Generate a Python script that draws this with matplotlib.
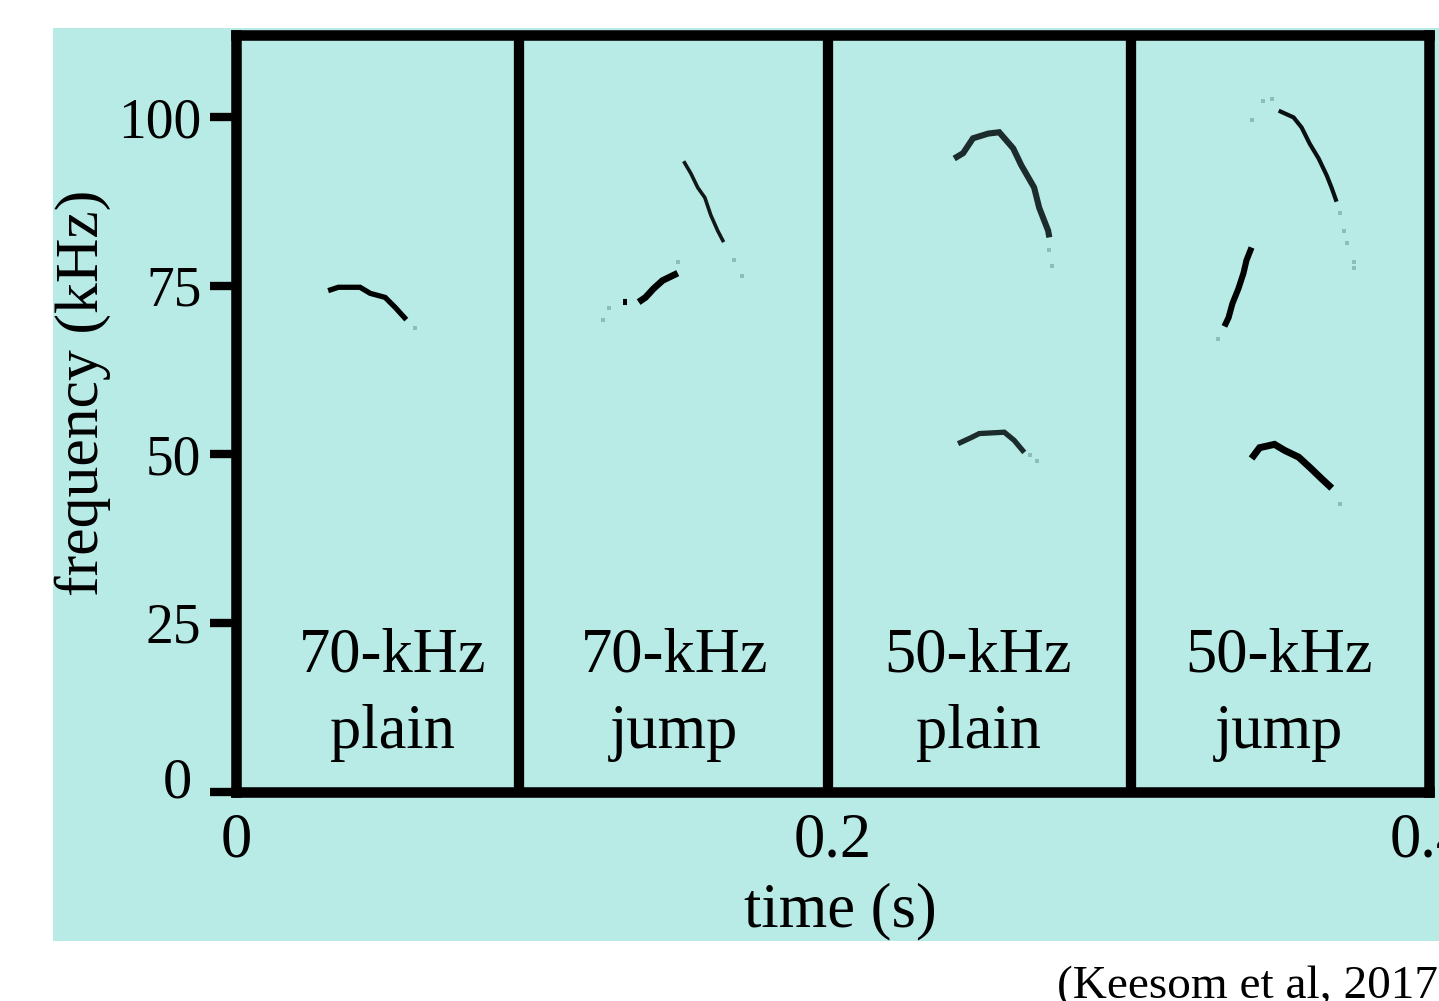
import matplotlib
matplotlib.use("Agg")
import matplotlib.pyplot as plt
from matplotlib.patches import Rectangle

plt.rcParams['font.family'] = ['Liberation Serif', 'DejaVu Serif']

BG = '#b8ebe6'

# call contours: time (s), frequency (kHz)
plain70_t = [0.0309, 0.0343, 0.0416, 0.0450, 0.0500, 0.0534, 0.0571]
plain70_f = [74.3, 74.8, 74.8, 73.9, 73.3, 71.8, 70.0]
plain70_tail_t = [0.0601]
plain70_tail_f = [68.8]

jump70_low_t = [0.1350, 0.1373, 0.1400, 0.1430, 0.1481]
jump70_low_f = [72.6, 73.3, 74.6, 75.8, 76.9]
jump70_dot_t = [0.1296, 0.1310]
jump70_dot_f = [72.6, 72.6]
jump70_low_tail_t = [0.1232, 0.1249, 0.1481]
jump70_low_tail_f = [69.9, 71.7, 78.5]

jump70_high_t = [0.1501, 0.1525, 0.1548, 0.1572, 0.1592, 0.1615, 0.1635]
jump70_high_f = [93.5, 91.7, 89.6, 88.1, 85.5, 83.2, 81.5]
jump70_high_tail_t = [0.1669, 0.1696]
jump70_high_tail_f = [78.8, 76.4]

plain50_top_t = [0.2408, 0.2438, 0.2471, 0.2522, 0.2559, 0.2606, 0.2633, 0.2676, 0.2693, 0.2723, 0.2727]
plain50_top_f = [93.9, 94.7, 96.9, 97.6, 97.8, 95.4, 92.9, 89.6, 86.6, 83.2, 82.2]
plain50_top_tail_t = [0.2727, 0.2737]
plain50_top_tail_f = [80.3, 78.0]

plain50_low_t = [0.2421, 0.2465, 0.2492, 0.2576, 0.2609, 0.2643]
plain50_low_f = [51.6, 52.5, 53.1, 53.3, 52.1, 50.3]
plain50_low_tail_t = [0.2663, 0.2686]
plain50_low_tail_f = [49.9, 49.0]

jump50_top_t = [0.3496, 0.3546, 0.3573, 0.3600, 0.3630, 0.3657, 0.3674, 0.3690]
jump50_top_f = [101.0, 100.0, 98.5, 96.1, 93.9, 91.4, 89.5, 87.5]
jump50_top_tail_t = [0.3405, 0.3445, 0.3472, 0.3700, 0.3714, 0.3724, 0.3748, 0.3748]
jump50_top_tail_f = [99.6, 102.4, 102.8, 85.8, 83.2, 81.3, 78.5, 77.6]

jump50_mid_t = [0.3314, 0.3328, 0.3341, 0.3361, 0.3378, 0.3388, 0.3405]
jump50_mid_f = [69.0, 70.3, 72.4, 74.6, 76.9, 78.8, 80.7]
jump50_mid_tail_t = [0.3294]
jump50_mid_tail_f = [67.2]

jump50_low_t = [0.3405, 0.3432, 0.3482, 0.3516, 0.3563, 0.3600, 0.3640, 0.3674]
jump50_low_f = [49.4, 51.0, 51.5, 50.6, 49.6, 48.1, 46.4, 45.0]
jump50_low_tail_t = [0.3700]
jump50_low_tail_f = [42.7]

panel_edges = [0.095, 0.1985, 0.3002]
panel_centers = [0.0525, 0.147, 0.2488, 0.3498]
panel_top = ['70-kHz', '70-kHz', '50-kHz', '50-kHz']
panel_bottom = ['plain', 'jump', 'plain', 'jump']

x_ticks = [0, 0.2, 0.4]
x_labels = ['0', '0.2', '0.4']
y_ticks = [0, 25, 50, 75, 100]
y_labels = ['', '25', '50', '75', '100']

W, H = 1439, 1001
fig = plt.figure(figsize=(W / 100, H / 100), dpi=100, facecolor='white')
fig.patches.append(Rectangle((53 / W, 1 - 941 / H), (W - 53) / W, 913 / H,
                             transform=fig.transFigure, facecolor=BG, edgecolor='none', zorder=-5))

ax = fig.add_axes([236 / W, 1 - 791.5 / H, 1193 / W, 757 / H])
ax.patch.set_alpha(0)
ax.set_xlim(0, 0.4)
ax.set_ylim(0, 112.3)

# dark contour parts (width, colour)
dark = [
    (plain70_t, plain70_f, 3.8, 'black'),
    (jump70_low_t, jump70_low_f, 4.8, 'black'),
    (jump70_dot_t, jump70_dot_f, 4.4, 'black'),
    (jump70_high_t, jump70_high_f, 2.6, '#111818'),
    (plain50_top_t, plain50_top_f, 4.4, '#1c2b2b'),
    (plain50_low_t, plain50_low_f, 3.8, '#1c2b2b'),
    (jump50_top_t, jump50_top_f, 3.0, '#0a0f0f'),
    (jump50_mid_t, jump50_mid_f, 4.4, 'black'),
    (jump50_low_t, jump50_low_f, 5.0, 'black'),
]
for t, f, lw, c in dark:
    ax.plot(t, f, color=c, lw=lw, solid_capstyle='butt', solid_joinstyle='miter', zorder=2)

# faint tails of the contours
tails = [
    (plain70_tail_t, plain70_tail_f),
    (jump70_low_tail_t, jump70_low_tail_f),
    (jump70_high_tail_t, jump70_high_tail_f),
    (plain50_top_tail_t, plain50_top_tail_f),
    (plain50_low_tail_t, plain50_low_tail_f),
    (jump50_top_tail_t, jump50_top_tail_f),
    (jump50_mid_tail_t, jump50_mid_tail_f),
    (jump50_low_tail_t, jump50_low_tail_f),
]
for t, f in tails:
    ax.scatter(t, f, marker='s', s=10, color='#6f9f9c', alpha=0.6, linewidths=0, zorder=2)

for x in panel_edges:
    ax.axvline(x, color='black', lw=7.4, zorder=3)

for s in ax.spines.values():
    s.set_linewidth(7.6)
    s.set_color('black')
    s.set_zorder(4)

ax.set_xticks(x_ticks)
ax.set_xticklabels(x_labels)
ax.set_yticks(y_ticks)
ax.set_yticklabels(y_labels)
ax.tick_params(axis='x', length=0, pad=15, labelsize=45)
ax.tick_params(axis='y', length=19, width=6, pad=6, labelsize=40)

# the 0 label sits a little above its tick in the original
ax.annotate('0', xy=(0, 0), xycoords='axes fraction', xytext=(-32, 6), textcoords='offset points',
            ha='right', va='center', fontsize=42, annotation_clip=False)

for xc, top, bottom in zip(panel_centers, panel_top, panel_bottom):
    ax.text(xc, 20.0, top, ha='center', va='center', fontsize=45, zorder=5)
    ax.text(xc, 8.7, bottom, ha='center', va='center', fontsize=45, zorder=5)

fig.text(840 / W, 1 - 911 / H, 'time (s)', ha='center', va='center', fontsize=45)
fig.text(83 / W, 1 - 393 / H, 'frequency (kHz)', rotation=90, ha='center', va='center', fontsize=44.5)
fig.text(1057 / W, 1 - 998 / H, '(Keesom et al, 2017)', ha='left', va='baseline', fontsize=34)

fig.savefig('out.png', dpi=100)
